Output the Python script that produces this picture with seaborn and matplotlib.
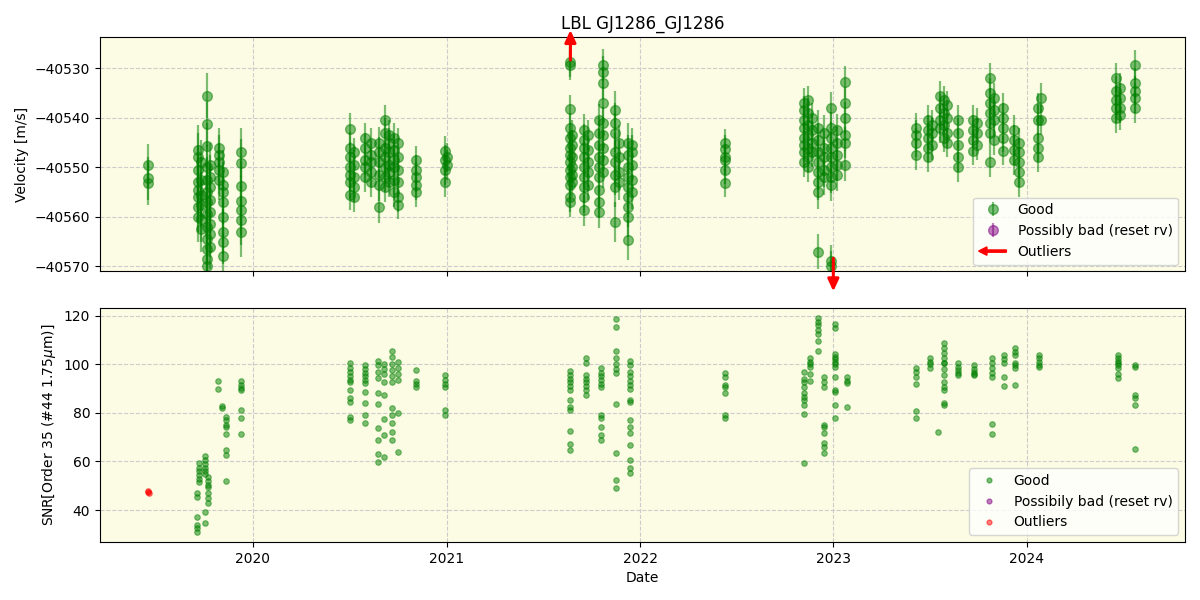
import numpy as np
import pandas as pd
import matplotlib
matplotlib.use("Agg")
import matplotlib.pyplot as plt
import matplotlib.dates as mdates
import matplotlib.patches as mpatches
from matplotlib.lines import Line2D
from matplotlib.legend_handler import HandlerPatch
import seaborn as sns

# ---------------- data (decimal years) ----------------
rv_col_dates = [2019.455, 2019.715, 2019.73, 2019.765, 2019.78, 2019.825, 2019.845, 2019.94,
                2020.50, 2020.52, 2020.58, 2020.61, 2020.65, 2020.68, 2020.70, 2020.73, 2020.75,
                2020.84, 2020.99, 2021.0,
                2021.64, 2021.65, 2021.71, 2021.73, 2021.79, 2021.81, 2021.87, 2021.89, 2021.94, 2021.96,
                2022.44,
                2022.85, 2022.87, 2022.89, 2022.92, 2022.95, 2022.99, 2023.02, 2023.06,
                2023.43, 2023.49, 2023.51, 2023.55, 2023.57, 2023.59, 2023.645, 2023.72, 2023.745,
                2023.81, 2023.83, 2023.88, 2023.935, 2023.96, 2024.06, 2024.075, 2024.46, 2024.48, 2024.56]
rv_col_errs = [4.3, 5.0, 4.5, 4.5, 4.5, 4.0, 4.5, 5.0,
               3.2, 3.0, 3.0, 3.0, 3.2, 3.0, 3.0, 3.0, 3.0,
               3.0, 3.0, 3.0,
               3.0, 3.0, 3.2, 3.0, 3.2, 3.2, 4.0, 3.5, 4.0, 3.5,
               2.8,
               3.0, 3.0, 3.0, 3.5, 3.5, 3.2, 3.2, 3.2,
               3.0, 3.0, 3.0, 3.0, 3.0, 3.0, 3.0, 3.0, 3.0,
               3.0, 3.0, 3.0, 3.0, 3.0, 3.0, 3.0, 3.0, 3.0, 3.0]
rv_col_values = [
    [-40549.6, -40552.2, -40553.2],
    [-40546.5, -40548.0, -40550.5, -40553.0, -40554.5, -40556.0, -40558.0, -40560.0],
    [-40549.0, -40552.5, -40555.5, -40557.5, -40560.5, -40562.5],
    [-40535.5, -40541.3, -40545.6, -40550.0, -40552.5, -40555.0, -40557.0, -40559.5, -40562.0,
     -40564.5, -40566.5, -40568.5, -40570.0],
    [-40549.5, -40552.0, -40554.0, -40556.5, -40559.0, -40561.5, -40563.5, -40566.0],
    [-40546.0, -40547.5, -40549.0, -40550.5, -40552.5],
    [-40551.0, -40553.5, -40555.0, -40557.0, -40560.0, -40563.0, -40565.0, -40567.8],
    [-40547.0, -40549.2, -40553.8, -40556.7, -40558.7, -40560.7, -40563.1],
    [-40542.3, -40546.0, -40548.0, -40550.0, -40551.5, -40553.0, -40555.5],
    [-40547.0, -40549.5, -40552.0, -40554.0, -40556.0],
    [-40544.0, -40546.0, -40548.5, -40550.0, -40552.0],
    [-40545.0, -40547.5, -40549.0, -40551.0, -40553.0],
    [-40545.0, -40547.0, -40549.0, -40551.5, -40553.5, -40558.0],
    [-40540.5, -40543.0, -40546.0, -40548.0, -40550.0, -40552.0, -40554.0],
    [-40543.5, -40545.0, -40547.0, -40549.5, -40551.0, -40553.0],
    [-40544.0, -40546.5, -40548.5, -40550.0, -40552.5, -40555.0],
    [-40545.0, -40548.0, -40550.5, -40553.0, -40556.0, -40557.5],
    [-40548.6, -40550.5, -40552.0, -40553.5, -40555.0],
    [-40546.6, -40548.5, -40550.5, -40553.0],
    [-40548.0, -40549.5],
    [-40528.8, -40529.4, -40538.3, -40542.0, -40544.0, -40546.0, -40547.5, -40549.0, -40550.5,
     -40552.0, -40553.5, -40556.0, -40557.0],
    [-40543.5, -40545.5, -40548.0, -40550.0, -40551.5, -40553.0],
    [-40542.5, -40544.5, -40546.0, -40548.0, -40550.0, -40552.0, -40554.0, -40556.0, -40558.7],
    [-40543.5, -40546.5, -40549.0, -40551.0, -40553.5],
    [-40540.5, -40543.0, -40545.5, -40548.0, -40550.0, -40552.0, -40554.5, -40557.0, -40559.0],
    [-40529.4, -40530.8, -40533.0, -40537.0, -40541.0, -40543.5, -40546.0, -40548.5, -40551.0],
    [-40538.5, -40541.0, -40543.0, -40547.0, -40549.0, -40551.5, -40554.0, -40561.0],
    [-40545.0, -40548.0, -40551.0, -40553.0],
    [-40545.0, -40547.5, -40550.0, -40552.0, -40554.0, -40556.0, -40558.0, -40560.0, -40564.7],
    [-40545.5, -40547.0, -40549.5, -40552.5, -40555.0],
    [-40545.0, -40546.2, -40548.0, -40548.6, -40550.6, -40553.2],
    [-40537.0, -40538.5, -40540.5, -40542.0, -40544.0, -40545.5, -40547.0, -40549.0],
    [-40536.5, -40539.0, -40541.5, -40543.5, -40546.0, -40548.0, -40550.0],
    [-40540.0, -40542.5, -40545.0, -40547.0],
    [-40542.0, -40544.5, -40547.0, -40549.0, -40551.0, -40553.0, -40555.0, -40567.0],
    [-40543.0, -40546.0, -40548.0, -40550.5, -40552.0],
    [-40538.0, -40542.0, -40544.0, -40546.0, -40548.0, -40550.0, -40552.0, -40553.6, -40568.8, -40570.0],
    [-40542.5, -40545.0, -40547.5, -40549.5, -40551.5],
    [-40532.8, -40537.0, -40540.0, -40543.5, -40545.0, -40549.6],
    [-40542.0, -40543.5, -40545.0, -40547.6],
    [-40540.5, -40542.5, -40544.0, -40546.0, -40548.0],
    [-40541.5, -40543.0, -40545.5],
    [-40535.5, -40538.0, -40540.5, -40542.0],
    [-40536.5, -40539.0, -40541.5, -40544.0],
    [-40537.5, -40540.0, -40543.0, -40545.0],
    [-40540.5, -40543.0, -40545.5, -40548.0, -40550.0],
    [-40540.5, -40542.5, -40544.5, -40546.6],
    [-40541.0, -40543.0, -40545.5],
    [-40532.0, -40535.0, -40537.0, -40539.0, -40541.0, -40543.0, -40549.0],
    [-40536.0, -40538.5, -40540.5, -40544.5],
    [-40538.0, -40540.0, -40542.0, -40544.0, -40546.6],
    [-40542.5, -40544.5, -40546.5, -40548.5],
    [-40545.0, -40547.0, -40549.0, -40551.0, -40553.0],
    [-40538.0, -40540.5, -40544.0, -40546.0, -40548.0],
    [-40536.0, -40540.5],
    [-40532.0, -40534.5, -40536.5, -40538.0, -40540.0],
    [-40534.0, -40536.0, -40538.0, -40539.5],
    [-40529.4, -40533.0, -40534.5, -40536.0, -40538.0],
]

rv_outlier_dates = [2021.64, 2023.0]
rv_outlier_dir = ["up", "down"]

snr_col_dates = [2019.71, 2019.72, 2019.75, 2019.77, 2019.82, 2019.84, 2019.86, 2019.94,
                 2020.50, 2020.58, 2020.645, 2020.675, 2020.72, 2020.75, 2020.84, 2020.99,
                 2021.64, 2021.72, 2021.80, 2021.875, 2021.95,
                 2022.44,
                 2022.85, 2022.88, 2022.92, 2022.95, 2023.01, 2023.07,
                 2023.43, 2023.50, 2023.54, 2023.575, 2023.645, 2023.73, 2023.82, 2023.885,
                 2023.94, 2024.065, 2024.47, 2024.56]
snr_col_values = [
    [47.0, 45.3, 37.1, 33.8, 32.5, 31.0],
    [59.3, 57.5, 56.0, 54.5, 53.0, 51.5],
    [62.2, 60.5, 59.0, 57.5, 56.0, 55.0, 39.2, 34.7],
    [53.5, 52.0, 50.5, 49.4, 47.0, 45.0, 42.9],
    [93.3, 90.0],
    [83.0, 81.8],
    [78.2, 76.9, 74.9, 74.0, 71.2, 64.6, 62.6, 51.9],
    [93.0, 91.5, 90.2, 89.2, 81.0, 77.7, 71.2],
    [100.3, 98.5, 97.0, 95.0, 93.5, 92.5, 89.6, 86.0, 84.3, 78.2, 76.9],
    [99.5, 98.0, 96.5, 95.0, 93.5, 92.1, 88.4, 83.9, 79.0, 75.7],
    [101.5, 99.5, 97.0, 94.5, 88.0, 83.5, 73.6, 68.7, 63.0, 59.7],
    [100.0, 98.0, 96.0, 92.5, 87.2, 77.3, 71.0, 62.0],
    [105.6, 102.8, 100.0, 97.5, 95.0, 92.5, 81.8, 79.0, 75.7, 72.0, 68.7],
    [101.0, 98.5, 96.0, 93.5, 80.0, 63.8],
    [97.8, 93.3, 92.0, 90.5],
    [95.4, 93.5, 92.0, 90.5, 81.0, 79.0],
    [97.4, 95.5, 94.0, 92.5, 91.0, 89.2, 85.1, 82.3, 81.0, 72.4, 67.1, 64.6],
    [102.4, 100.7, 95.4, 94.0, 92.5, 91.0, 89.5, 87.2],
    [98.3, 96.5, 95.0, 93.5, 92.0, 90.5, 79.0, 77.7, 74.0, 71.0, 68.7],
    [118.4, 115.1, 105.6, 102.4, 100.0, 98.0, 96.2, 83.5, 63.4, 52.3, 49.0],
    [101.5, 99.5, 97.0, 95.0, 93.0, 91.5, 90.0, 85.1, 84.3, 76.9, 74.0, 71.6, 66.7, 60.5, 57.5, 55.2],
    [96.2, 94.6, 91.3, 90.5, 88.0, 79.0, 77.7],
    [96.6, 94.0, 92.5, 90.5, 88.0, 86.5, 85.1, 83.1, 79.4, 59.3],
    [102.4, 101.0, 100.0, 98.7, 96.0, 93.0],
    [119.2, 117.5, 116.0, 114.0, 112.6, 109.7, 105.6],
    [94.6, 92.5, 90.5, 74.9, 74.0, 71.6, 67.5, 65.8, 63.4],
    [116.7, 114.7, 104.4, 103.0, 102.0, 101.0, 100.0, 98.7, 94.6, 89.2, 88.4, 83.1, 77.7],
    [94.6, 93.3, 92.1, 82.3],
    [98.3, 96.6, 94.6, 91.7, 80.6, 77.7],
    [102.4, 101.0, 100.0, 98.3],
    [72.0],
    [108.9, 106.5, 104.5, 102.5, 100.7, 100.3, 98.0, 95.4, 92.5, 90.5, 89.2, 83.9, 83.1],
    [100.7, 99.0, 97.5, 96.5, 95.4],
    [99.5, 98.0, 97.0, 96.0, 95.4],
    [102.4, 100.5, 98.5, 96.5, 94.6, 75.3, 71.2],
    [103.6, 102.0, 100.7, 94.6, 90.9],
    [106.5, 105.0, 103.6, 100.7, 99.5, 98.3, 91.3],
    [103.6, 102.5, 101.0, 99.5, 98.7],
    [103.6, 102.5, 101.5, 100.5, 99.5, 98.3, 96.0, 94.2],
    [99.5, 98.7, 87.2, 86.0, 83.1, 65.0],
]
snr_outlier_dates = [2019.458, 2019.46, 2019.462]
snr_outlier_values = [47.8, 47.3, 47.0]

x_limits = [2019.209, 2024.817]
rv_limits = [-40571.0, -40523.7]
snr_limits = [26.9, 123.3]


def dec2num(y):
    yr = int(y)
    start = pd.Timestamp(yr, 1, 1)
    end = pd.Timestamp(yr + 1, 1, 1)
    return mdates.date2num((start + (end - start) * (y - yr)).to_pydatetime())


rv_x, rv_y, rv_e = [], [], []
for d, e, vals in zip(rv_col_dates, rv_col_errs, rv_col_values):
    for v in vals:
        rv_x.append(dec2num(d)); rv_y.append(v); rv_e.append(e)
snr_x, snr_y = [], []
for d, vals in zip(snr_col_dates, snr_col_values):
    for v in vals:
        snr_x.append(dec2num(d)); snr_y.append(v)
snr_df = pd.DataFrame({"date": snr_x, "snr": snr_y})
snr_out_df = pd.DataFrame({"date": [dec2num(d) for d in snr_outlier_dates], "snr": snr_outlier_values})

bg = "#fcfbe3"
fig, (ax1, ax2) = plt.subplots(2, 1, figsize=(12, 6), dpi=100, sharex=True)
fig.subplots_adjust(left=0.0833, right=0.9875, top=0.9383, bottom=0.0967, hspace=0.154)

for ax in (ax1, ax2):
    ax.set_facecolor(bg)
    ax.grid(True, linestyle="--", color="#cccccc", linewidth=0.8)
    ax.set_axisbelow(True)

# top panel
good = ax1.errorbar(rv_x, rv_y, yerr=rv_e, fmt="o", color="green", alpha=0.5,
                    markersize=7, elinewidth=1.6, label="Good")
bad = ax1.errorbar([], [], yerr=[], fmt="o", color="purple", alpha=0.5,
                   markersize=7, elinewidth=1.6, label="Possibly bad (reset rv)")
for d, direc in zip(rv_outlier_dates, rv_outlier_dir):
    xd = dec2num(d)
    if direc == "up":
        y0, y1 = 0.902, 1.03
    else:
        y0, y1 = 0.056, -0.085
    ax1.annotate("", xy=(xd, y1), xytext=(xd, y0), xycoords=("data", "axes fraction"),
                 textcoords=("data", "axes fraction"), annotation_clip=False,
                 arrowprops=dict(arrowstyle="-|>,head_width=0.3,head_length=0.65", color="red",
                                 lw=2.2, shrinkA=0, shrinkB=0, mutation_scale=11))
ax1.set_ylim(*rv_limits)
ax1.set_ylabel("Velocity [m/s]")
ax1.set_title("LBL GJ1286_GJ1286", fontsize=12)


def arrow_patch(legend, orig_handle, xdescent, ydescent, width, height, fontsize):
    return mpatches.FancyArrow(-xdescent + width, -ydescent + height / 2, -width, 0,
                               width=1.6, head_width=6, head_length=6,
                               length_includes_head=True, color="red")


arrow_proxy = mpatches.FancyArrow(0, 0, 1, 0, color="red")
ax1.legend([good, bad, arrow_proxy], ["Good", "Possibly bad (reset rv)", "Outliers"],
           loc="lower right", handler_map={arrow_proxy: HandlerPatch(patch_func=arrow_patch)})

# bottom panel
sns.scatterplot(data=snr_df, x="date", y="snr", ax=ax2, color="green", alpha=0.5,
                s=16, edgecolor="green", linewidth=0.8, legend=False)
sns.scatterplot(data=snr_out_df, x="date", y="snr", ax=ax2, color="red", alpha=0.5,
                s=16, edgecolor="red", linewidth=0.8, legend=False)
ax2.set_ylim(*snr_limits)
ax2.set_ylabel(r"SNR[Order 35 (#44 1.75$\mu$m)]")
ax2.set_xlabel("Date")
handles2 = [Line2D([], [], marker="o", ls="", color="green", alpha=0.5, markersize=3.5),
            Line2D([], [], marker="o", ls="", color="purple", alpha=0.5, markersize=3.5),
            Line2D([], [], marker="o", ls="", color="red", alpha=0.5, markersize=3.5)]
ax2.legend(handles2, ["Good", "Possibily bad (reset rv)", "Outliers"], loc="lower right")

ax2.set_xlim(dec2num(x_limits[0]), dec2num(x_limits[1]))
ax2.xaxis.set_major_locator(mdates.YearLocator())
ax2.xaxis.set_major_formatter(mdates.DateFormatter("%Y"))

fig.savefig("out.png", dpi=100)
